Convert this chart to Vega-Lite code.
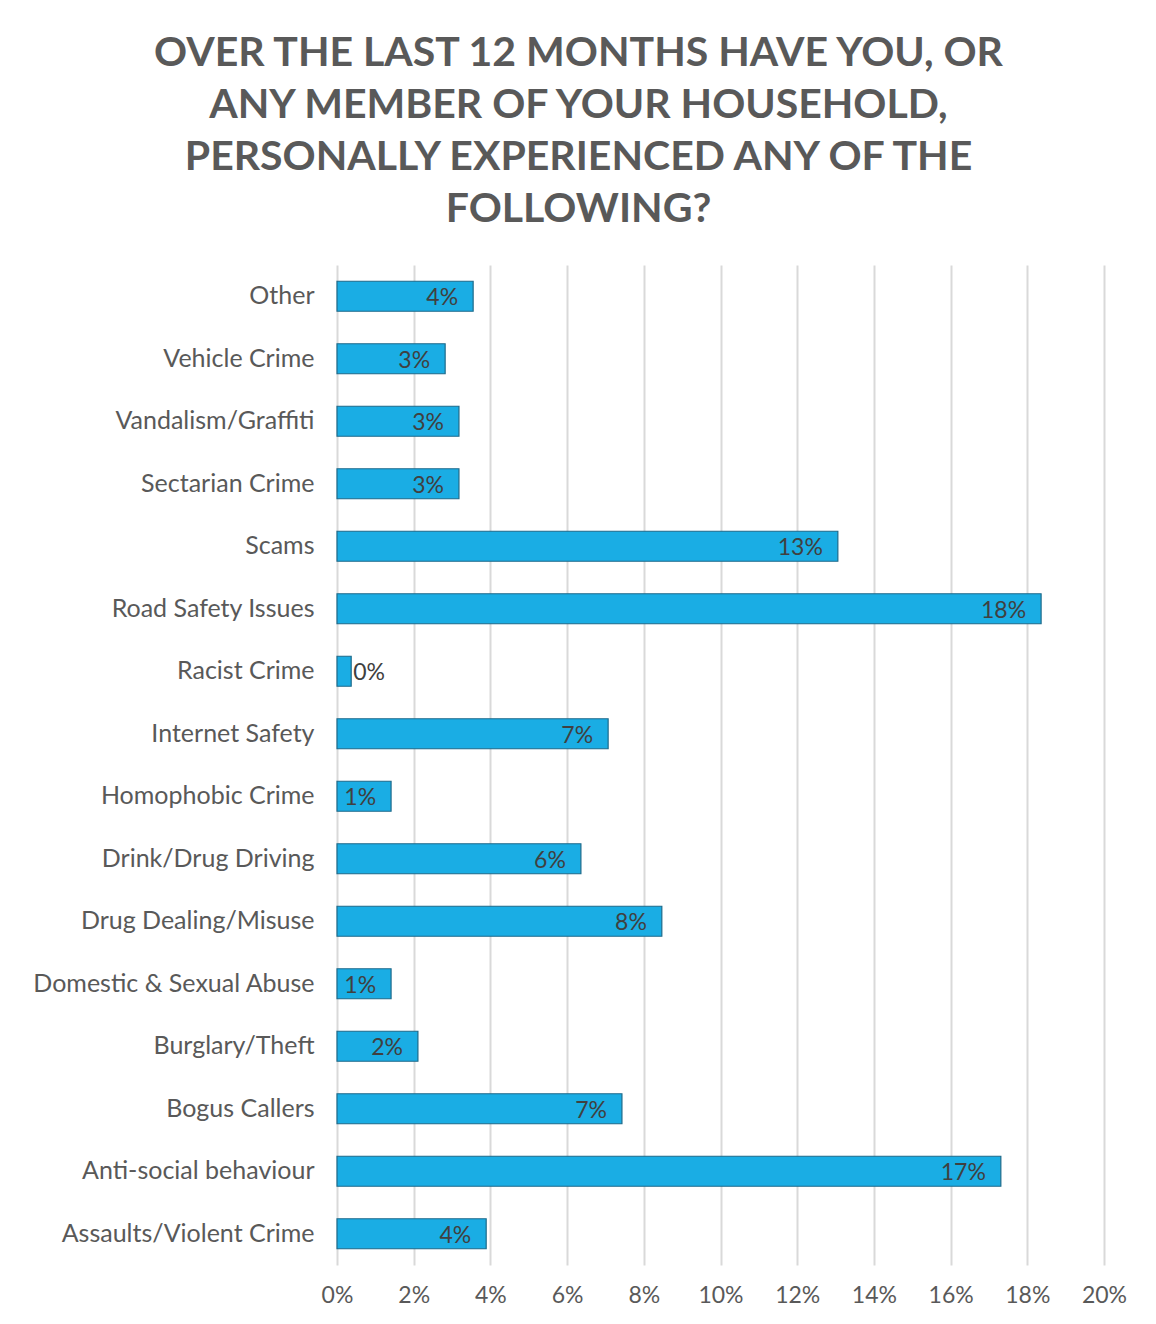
{
  "$schema": "https://vega.github.io/schema/vega-lite/v6.json",
  "autosize": "none",
  "width": 767,
  "height": 1000,
  "padding": {"left": 337, "top": 265, "right": 52, "bottom": 59},
  "background": "white",
  "title": {
    "text": ["OVER THE LAST 12 MONTHS HAVE YOU, OR", "ANY MEMBER OF YOUR HOUSEHOLD,", "PERSONALLY EXPERIENCED ANY OF THE", "FOLLOWING?"],
    "anchor": "middle",
    "frame": "group",
    "dx": -142,
    "offset": 34,
    "font": "Lato",
    "fontSize": 41,
    "fontWeight": "bold",
    "color": "#595959",
    "lineHeight": 52
  },
  "data": {
    "values": [
      {"category": "Other", "value": 3.55, "label": "4%"},
      {"category": "Vehicle Crime", "value": 2.82, "label": "3%"},
      {"category": "Vandalism/Graffiti", "value": 3.18, "label": "3%"},
      {"category": "Sectarian Crime", "value": 3.18, "label": "3%"},
      {"category": "Scams", "value": 13.06, "label": "13%"},
      {"category": "Road Safety Issues", "value": 18.36, "label": "18%"},
      {"category": "Racist Crime", "value": 0.37, "label": "0%"},
      {"category": "Internet Safety", "value": 7.07, "label": "7%"},
      {"category": "Homophobic Crime", "value": 1.41, "label": "1%"},
      {"category": "Drink/Drug Driving", "value": 6.36, "label": "6%"},
      {"category": "Drug Dealing/Misuse", "value": 8.47, "label": "8%"},
      {"category": "Domestic & Sexual Abuse", "value": 1.41, "label": "1%"},
      {"category": "Burglary/Theft", "value": 2.11, "label": "2%"},
      {"category": "Bogus Callers", "value": 7.43, "label": "7%"},
      {"category": "Anti-social behaviour", "value": 17.31, "label": "17%"},
      {"category": "Assaults/Violent Crime", "value": 3.89, "label": "4%"}
    ]
  },
  "encoding": {
    "y": {
      "field": "category",
      "type": "nominal",
      "sort": null,
      "scale": {"paddingInner": 0.52, "paddingOuter": 0.26},
      "axis": {
        "title": null,
        "domain": false,
        "ticks": false,
        "labelPadding": 23,
        "labelFont": "Lato",
        "labelFontSize": 25,
        "labelColor": "#595959",
        "labelLimit": 400
      }
    },
    "x": {
      "field": "value",
      "type": "quantitative",
      "scale": {"domain": [0, 20], "nice": false},
      "axis": {
        "title": null,
        "values": [0, 2, 4, 6, 8, 10, 12, 14, 16, 18, 20],
        "labelExpr": "datum.value + '%'",
        "labelFlush": false,
        "domain": false,
        "ticks": false,
        "grid": true,
        "gridColor": "#d9d9d9",
        "gridWidth": 2,
        "labelPadding": 19,
        "labelFont": "Lato",
        "labelFontSize": 23,
        "labelColor": "#595959"
      }
    }
  },
  "layer": [
    {
      "mark": {"type": "bar", "color": "#1AADE4", "stroke": "#1E6A8A", "strokeWidth": 1.2}
    },
    {
      "transform": [{"filter": "datum.value >= 1"}],
      "mark": {"type": "text", "align": "right", "baseline": "middle", "dx": -15, "dy": 2, "font": "Lato", "fontSize": 23, "color": "#404040"},
      "encoding": {"text": {"field": "label"}}
    },
    {
      "transform": [{"filter": "datum.value < 1"}],
      "mark": {"type": "text", "align": "left", "baseline": "middle", "dx": 2, "dy": 2, "font": "Lato", "fontSize": 23, "color": "#404040"},
      "encoding": {"text": {"field": "label"}}
    }
  ],
  "config": {"view": {"stroke": null}}
}
